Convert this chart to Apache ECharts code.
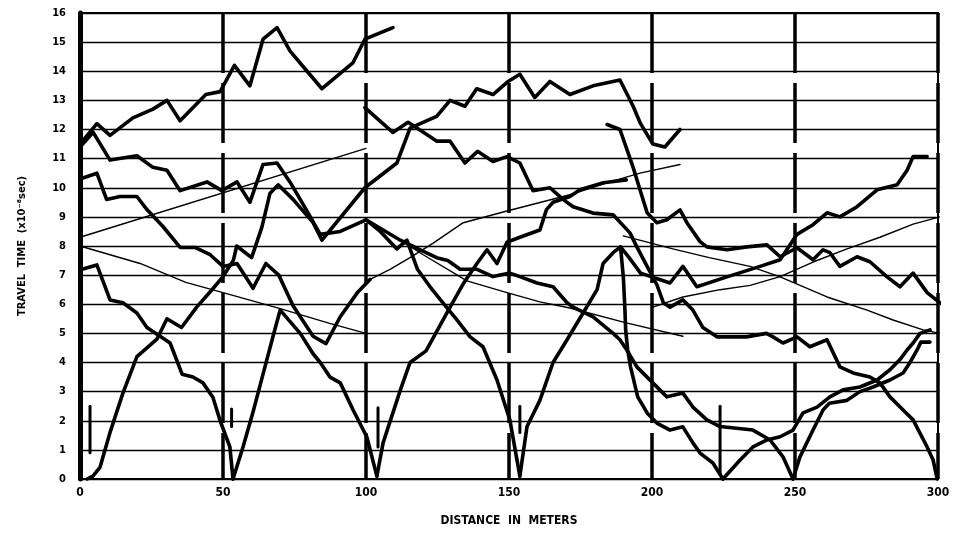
<!DOCTYPE html>
<html>
<head>
<meta charset="utf-8">
<script src="https://cdn.jsdelivr.net/npm/echarts@6/dist/echarts.min.js"></script>
<style>
  html, body { margin: 0; padding: 0; background: #fff; }
  #chart { width: 962px; height: 533px; }
</style>
</head>
<body>
<div id="chart"></div>
<script>
// distance in meters (x) vs travel time x10^-8 sec (y)
const xTicks = [0, 50, 100, 150, 200, 250, 300]
const yTicks = [0, 1, 2, 3, 4, 5, 6, 7, 8, 9, 10, 11, 12, 13, 14, 15, 16]

// heavy traced curves
const curveA = [[0,11.5],[5.9,12.2],[10.5,11.8],[18.5,12.4],[25.5,12.7],[30.4,13.0],[35,12.3],[44,13.2],[49,13.3],[54,14.2],[59.4,13.5],[64,15.1],[68.9,15.5],[73.4,14.7],[79.4,14.0],[84.6,13.4],[95.5,14.3],[99.6,15.1],[109.4,15.5]]
const curveB = [[0,11.4],[4.6,11.9],[10.5,10.95],[19.9,11.1],[25.5,10.7],[30.4,10.6],[35,9.9],[44.4,10.2],[49.6,9.9],[54.9,10.2],[59.4,9.5],[64,10.8],[68.9,10.85],[73.4,10.2],[79.4,9.2],[84,8.4],[91,8.5],[100,8.9]]
const curveC = [[0,10.3],[5.9,10.5],[9.3,9.6],[14,9.7],[19.9,9.7],[23.4,9.25],[29,8.67],[35,7.95],[40.2,7.95],[45.5,7.7],[50,7.3],[54.9,7.4],[60.5,6.55],[65,7.4],[69.5,7.0],[74.5,5.95],[81.5,4.9],[86,4.65],[91,5.57],[97,6.4],[101.4,6.85]]
const shot0 = [[2.5,0],[4.5,0.1],[7,0.4],[10.5,1.6],[15,2.95],[19.9,4.2],[26.9,4.8],[30.4,5.5],[35.5,5.2],[40.8,5.9],[46.6,6.55],[50,6.95],[53.6,7.5],[54.8,8.0],[60,7.6],[63.6,8.65],[66.4,9.8],[69.3,10.1],[74.5,9.6],[81.5,8.8],[84.6,8.2],[99.6,10.0],[110.8,10.85],[115.4,12.05],[124.7,12.45],[129.4,13.0],[134.6,12.8],[138.7,13.4],[144.4,13.2],[149.7,13.65],[153.8,13.9],[159,13.1],[164.3,13.65],[171.3,13.2],[179.4,13.5],[188.8,13.7],[193.4,12.8],[196,12.2],[200.3,11.5],[204.5,11.4],[209.8,12.0]]
const shot50Left = [[0.7,7.2],[5.9,7.35],[10.5,6.15],[15,6.05],[19.9,5.7],[23.4,5.2],[28,4.9],[31.5,4.67],[35.7,3.6],[39.5,3.5],[43,3.3],[46.5,2.8],[49,2.0],[52.4,1.1],[53.5,0]]
const shot50Right = [[53.5,0],[57,1.1],[60.5,2.3],[64,3.6],[67.5,4.9],[70,5.8],[77,5.0],[81.5,4.3],[84,4.0],[87.4,3.5],[91,3.3],[95.5,2.37],[100.3,1.44],[103.8,0.1]]
const shot100Right = [[103.8,0.1],[106,1.25],[112,3.05],[115.4,4.0],[121,4.4],[129.4,5.9],[134,6.7],[138.8,7.4],[142.3,7.87],[145.8,7.4],[149.3,8.13],[153.8,8.3],[160.8,8.55],[163.1,9.25],[165.4,9.5],[171.3,9.7],[174.8,9.93],[183,10.17],[191,10.27]]
const shot150Left = [[100,8.9],[105,8.5],[110.8,7.9],[114.3,8.2],[118,7.2],[122.4,6.6],[126.9,6.05],[131.8,5.46],[136.4,4.88],[140.9,4.54],[145.8,3.4],[150.3,2.03],[153.8,0.1]]
const shot150Right = [[153.8,0.1],[156.3,1.8],[160.8,2.7],[165.4,4.0],[170.3,4.78],[175.9,5.7],[180.8,6.5],[182.9,7.4],[186.4,7.77],[189,7.97],[192,7.6],[196,7.07],[206.3,6.73],[210.8,7.3],[215.7,6.6],[226.2,6.94],[237.8,7.3],[244.8,7.53],[250.7,8.4],[256.3,8.73],[261.2,9.14],[265.7,9.0],[271.7,9.35],[278.7,9.93],[285.7,10.1],[289.2,10.6],[291.3,11.07],[296.2,11.07]]
const shot250Left = [[100,8.9],[112,8.2],[119,7.87],[124.7,7.6],[128.6,7.5],[132.9,7.2],[138.8,7.2],[144.4,6.95],[150.3,7.07],[153.8,6.95],[159.8,6.73],[165.4,6.6],[170.3,6.05],[172.4,5.9],[179.4,5.57],[186.4,5.0],[188.8,4.78],[191.2,4.43],[194.7,3.85],[200.3,3.3],[205.2,2.82],[210.8,2.95],[214.3,2.47],[219.2,2.03],[223.8,1.8],[235.3,1.68],[241.3,1.34],[245.8,0.76],[249.3,0]]
const shot300Left = [[99.6,12.75],[109.4,11.9],[114.7,12.25],[117.8,12.05],[124.8,11.6],[129.4,11.6],[134.6,10.85],[139,11.25],[144.4,10.9],[149.3,11.07],[153.8,10.85],[158.4,9.9],[164.3,10.0],[168.9,9.6],[172.4,9.35],[179.4,9.13],[186.4,9.07],[192.3,8.45],[194.7,7.97],[198.3,7.3],[201.7,6.67],[204,6.05],[206.3,5.9],[210.8,6.15],[214.3,5.8],[217.8,5.2],[222.7,4.88],[233,4.88],[240,5.0],[242.3,4.88],[245.8,4.67],[250.7,4.88],[255.2,4.54],[261.2,4.78],[265.7,3.85],[270.3,3.64],[276.2,3.5],[279.7,3.3],[283.2,2.82],[287.8,2.37],[291.3,2.03],[296.2,1.1],[298.3,0.65],[299.7,0]]
const curveG = [[184.3,12.17],[188.8,12.0],[193.4,10.7],[195.8,9.93],[198.3,9.14],[201.7,8.8],[205.2,8.9],[209.8,9.24],[212.2,8.8],[216.8,8.15],[219.2,7.97],[226.2,7.87],[233.2,7.97],[240.2,8.04],[244.8,7.63],[250.7,7.94],[256.3,7.53],[259.8,7.87],[262.2,7.77],[265.7,7.3],[271.7,7.63],[276.2,7.46],[282.2,6.94],[286.7,6.6],[291.3,7.07],[296.2,6.4],[300.7,6.05],[308.4,5.57]]
const shot223Left = [[189,7.97],[190,6.9],[190.5,5.9],[190.8,5.1],[191.5,4.43],[192.5,3.85],[195,2.82],[198.3,2.27],[201.7,1.92],[206.3,1.68],[210.8,1.79],[214.3,1.24],[216.8,0.89],[221.3,0.55],[224.8,0]]
const shot223Right = [[224.8,0],[230.8,0.65],[235.3,1.1],[240.2,1.34],[244.8,1.45],[249.3,1.68],[252.8,2.27],[257.7,2.47],[262.2,2.82],[266.8,3.06],[272.7,3.16],[278.7,3.4],[283.2,3.75],[286.7,4.1],[289.2,4.43],[291.3,4.67],[293.7,5.0],[297.2,5.12]]
const shot249Right = [[249.3,0],[251.7,0.75],[256.3,1.68],[259.8,2.37],[262,2.6],[268.2,2.7],[272.7,3.0],[277.3,3.16],[283.2,3.4],[287.8,3.64],[290.2,4.0],[292.7,4.43],[294,4.7],[297.2,4.7]]

// light fitted lines
const fit1 = [[0,8.3],[100,11.35]]
const fit2 = [[0,8.0],[21,7.4],[37,6.75],[50,6.4],[70,5.85],[87,5.35],[100,5.0]]
const fit3 = [[101.4,6.85],[108.4,7.2],[115.4,7.6],[123.5,8.1],[134,8.8],[149.3,9.2],[171.3,9.76],[185.3,10.2],[195.8,10.5],[209.8,10.8]]
const fit4 = [[112,8.2],[120,7.7],[135.3,6.8],[149.3,6.4],[160.8,6.08],[171.3,5.87],[191,5.36],[210.8,4.9]]
const fit5 = [[190,8.35],[207.3,7.9],[220,7.6],[234.3,7.3],[244.8,6.94],[261.2,6.25],[275.2,5.8],[284.3,5.46],[294.8,5.12],[300.7,5.0]]
const fit6 = [[200.3,5.9],[210.8,6.25],[223.8,6.5],[234.3,6.65],[244.8,6.95],[256.3,7.45],[268.2,7.9],[279.7,8.3],[291.3,8.75],[300.7,9.0]]

// shot point ticks
const shotMarks = [[[3.5,0.9],[3.5,2.5]], [[53,1.8],[53,2.4]], [[104.2,1.1],[104.2,2.45]], [[153.8,1.6],[153.8,2.5]], [[223.8,0.2],[223.8,2.5]]]

const heavy = [curveA, curveB, curveC, shot0, shot50Left, shot50Right, shot100Right, shot150Left, shot150Right,
  shot250Left, shot300Left, curveG, shot223Left, shot223Right, shot249Right]
const light = [fit1, fit2, fit3, fit4, fit5, fit6]

const lineSeries = (data, width) => ({
  type: 'line',
  data,
  symbol: 'none',
  silent: true,
  clip: false,
  lineStyle: { color: '#000', width, join: 'round', cap: 'round' },
})

const series = []
heavy.forEach(d => series.push(lineSeries(d, 3.6)))
light.forEach(d => series.push(lineSeries(d, 1.4)))
shotMarks.forEach(d => series.push(lineSeries(d, 3)))

const chart = echarts.init(document.getElementById('chart'), null, { renderer: 'canvas' })
chart.setOption({
  backgroundColor: '#fff',
  animation: false,
  grid: { left: 80, right: 24, top: 13, bottom: 54, show: true, borderColor: '#000', borderWidth: 2 },
  xAxis: {
    type: 'value',
    min: xTicks[0],
    max: xTicks[xTicks.length - 1],
    interval: 50,
    name: 'DISTANCE  IN  METERS',
    nameLocation: 'middle',
    nameGap: 36,
    nameTextStyle: { color: '#000', fontFamily: 'DejaVu Sans Condensed', fontWeight: 'bold', fontSize: 12 },
    axisLine: { lineStyle: { color: '#000', width: 2 } },
    axisTick: { show: false },
    axisLabel: { color: '#000', fontFamily: 'DejaVu Sans Condensed', fontWeight: 'bold', fontSize: 12, margin: 8 },
    splitLine: { show: true, lineStyle: { color: '#000', width: 3.5, type: [60, 10] } },
  },
  yAxis: {
    type: 'value',
    min: yTicks[0],
    max: yTicks[yTicks.length - 1],
    interval: 1,
    name: 'TRAVEL  TIME  (x10⁻⁸sec)',
    nameLocation: 'middle',
    nameGap: 52,
    nameRotate: 90,
    nameTextStyle: { color: '#000', fontFamily: 'DejaVu Sans Condensed', fontWeight: 'bold', fontSize: 11 },
    axisLine: { show: true, lineStyle: { color: '#000', width: 5 } },
    axisTick: { show: false },
    axisLabel: { color: '#000', fontFamily: 'DejaVu Sans Condensed', fontWeight: 'bold', fontSize: 11, margin: 14 },
    splitLine: { show: true, lineStyle: { color: '#000', width: 1.4 } },
  },
  series,
})
</script>
</body>
</html>
